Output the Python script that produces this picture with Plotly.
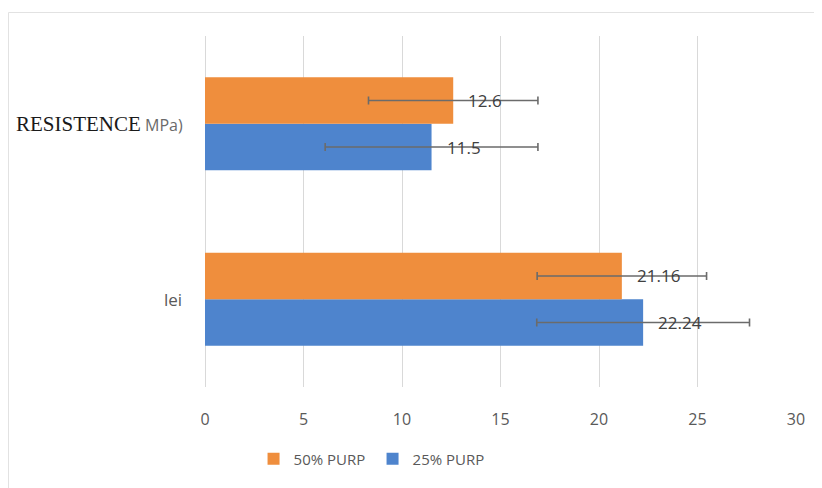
import plotly.graph_objects as go

categories = ["lei", "RESISTENCE (MPa)"]
series_names = ["50% PURP", "25% PURP"]
values_50 = [21.16, 12.6]
values_25 = [22.24, 11.5]
err_50 = [4.3, 4.3]
err_25 = [5.4, 5.4]
x_ticks = [0, 5, 10, 15, 20, 25, 30]

ORANGE = "#EF8E3D"
BLUE = "#4E84CD"
GREY_TXT = "#595959"
ERR_COL = "#6b6b6b"

fig = go.Figure()
fig.add_trace(go.Bar(
    y=categories, x=values_25, orientation="h", name=series_names[1],
    marker=dict(color=BLUE, line=dict(width=0)),
    error_x=dict(type="data", array=err_25, color=ERR_COL, thickness=1.6, width=4),
))
fig.add_trace(go.Bar(
    y=categories, x=values_50, orientation="h", name=series_names[0],
    marker=dict(color=ORANGE, line=dict(width=0)),
    error_x=dict(type="data", array=err_50, color=ERR_COL, thickness=1.6, width=4),
))

annotations = []
for vals, shift in ((values_25, -23.5), (values_50, 23.5)):
    for cat, v in zip(categories, vals):
        annotations.append(dict(
            x=v, y=cat, xref="x", yref="y", text=f"{v:g}", showarrow=False,
            xanchor="left", yanchor="middle", xshift=13, yshift=shift,
            font=dict(family="Open Sans", size=17, color="#404040"),
        ))

# category labels
annotations.append(dict(
    x=-0.0338, y=categories[1], xref="paper", yref="y", showarrow=False,
    xanchor="right", yanchor="middle",
    text="<span style='font-family:Liberation Serif;color:#1a1a1a;font-size:21px'>RESISTENCE</span>"
         " <span style='color:#6a6a6a;font-size:16px'>MPa)</span>",
    font=dict(family="Open Sans", size=16, color=GREY_TXT),
))
annotations.append(dict(
    x=-0.0355, y=categories[0], xref="paper", yref="y", showarrow=False,
    xanchor="right", yanchor="middle", text="lei",
    font=dict(family="Open Sans", size=17, color=GREY_TXT),
))

fig.update_layout(
    width=814, height=480,
    margin=dict(l=197, r=26, t=28, b=93),
    paper_bgcolor="white", plot_bgcolor="white",
    barmode="group", bargap=0.47, bargroupgap=0,
    showlegend=True,
    legend=dict(orientation="h", x=0.2835, y=-0.205, xanchor="center", yanchor="middle",
                traceorder="reversed", font=dict(family="Open Sans", size=15, color=GREY_TXT),
                itemwidth=30, entrywidth=74, entrywidthmode="pixels"),
    xaxis=dict(range=[0, 30], tickvals=x_ticks, showgrid=True, gridcolor="#d9d9d9", gridwidth=1,
               zeroline=True, zerolinecolor="#d9d9d9", zerolinewidth=1, showline=False,
               ticks="", ticklabelstandoff=21,
               tickfont=dict(family="Open Sans", size=16, color=GREY_TXT)),
    yaxis=dict(showticklabels=False, showgrid=False, zeroline=False, showline=False,
               categoryorder="array", categoryarray=categories),
    annotations=annotations,
    shapes=[dict(type="rect", xref="paper", yref="paper", x0=-0.3325, x1=1.1, y0=-0.3, y1=1.067,
                 line=dict(color="#e2e2e2", width=1), fillcolor="rgba(0,0,0,0)", layer="below")],
)

fig.write_html("out.html")
